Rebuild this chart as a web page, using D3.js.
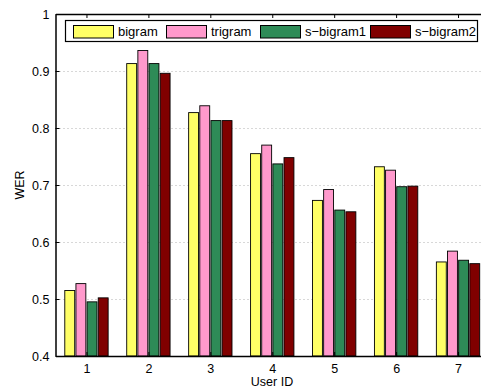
<!DOCTYPE html>
<html>
<head>
<meta charset="utf-8">
<script src="https://cdn.jsdelivr.net/npm/d3@7"></script>
<style>
    body{margin:0;background:#fff;}
    .canvas text{font-family:"Liberation Sans",Arial,Helvetica,sans-serif;}
</style>
</head>
<body>
<div class="canvas"></div>
<script>
//chart data
var userIds = [1,2,3,4,5,6,7];
var seriesNames = ['bigram','trigram','s\u2212bigram1','s\u2212bigram2'];
var bigram   = [0.515,0.913,0.827,0.755,0.673,0.732,0.565];
var trigram  = [0.527,0.936,0.839,0.770,0.692,0.726,0.584];
var sBigram1 = [0.495,0.913,0.813,0.737,0.656,0.697,0.568];
var sBigram2 = [0.502,0.896,0.813,0.748,0.653,0.698,0.562];
var yTicks = [0.4,0.5,0.6,0.7,0.8,0.9,1];
var seriesColors = ['#ffff66','#ff99cc','#2e8b57','#800000'];

var seriesValues = [bigram,trigram,sBigram1,sBigram2];

var pageWidth = 481,
    pageHeight = 390;
//the plot box runs a little past the right edge of the picture, like the original
var plot = {l:55.5, r:489, t:14, b:356};

var svg = d3.select('.canvas')
    .append('svg')
    .attr('width',pageWidth)
    .attr('height',pageHeight);

var x = d3.scaleLinear().domain([0.5,7.5]).range([plot.l,plot.r]);
var y = d3.scaleLinear().domain([0.4,1]).range([plot.b,plot.t]);

//grouped bar geometry (in x units)
var slot = 0.18,
    barW = 0.16;

//dotted grid lines
svg.append('g')
    .selectAll('line')
    .data(yTicks.filter(function(d){ return d>0.4 && d<1; }))
    .enter()
    .append('line')
    .attr('x1',plot.l)
    .attr('x2',plot.r)
    .attr('y1',function(d){ return Math.round(y(d))+0.5; })
    .attr('y2',function(d){ return Math.round(y(d))+0.5; })
    .style('stroke','#b0b0b0')
    .style('stroke-width',1)
    .style('stroke-dasharray','1,3');

//bars
seriesValues.forEach(function(vals,s){
    svg.append('g')
        .selectAll('rect')
        .data(vals)
        .enter()
        .append('rect')
        .attr('x',function(d,i){ return x(userIds[i] + (s-2)*slot + (slot-barW)/2); })
        .attr('width',x(barW)-x(0))
        .attr('y',function(d){ return y(d); })
        .attr('height',function(d){ return y(0.4)-y(d); })
        .style('fill',seriesColors[s])
        .style('stroke','#000')
        .style('stroke-width',0.9);
});

//axes: left and bottom with labels, top and right as plain box with ticks
var yAxis = d3.axisLeft(y).tickValues(yTicks).tickSizeInner(-4).tickSizeOuter(0).tickPadding(6)
    .tickFormat(function(d){ return d===1 ? '1' : d3.format('.1f')(d); });
var xAxis = d3.axisBottom(x).tickValues(userIds).tickSizeInner(-4).tickSizeOuter(0).tickPadding(8)
    .tickFormat(d3.format('d'));
var xTop = d3.axisTop(x).tickValues(userIds).tickSizeInner(-4).tickSizeOuter(0).tickFormat('');
var yRight = d3.axisRight(y).tickValues(yTicks).tickSizeInner(-4).tickSizeOuter(0).tickFormat('');

function styleAxis(g){
    g.select('.domain').style('stroke','#000').style('stroke-width',1.5);
    g.selectAll('.tick line').style('stroke','#000');
    g.selectAll('text').style('font-size','12.5px').style('fill','#000')
        .style('font-family','"Liberation Sans",Arial,sans-serif');
}

svg.append('g').attr('transform','translate('+plot.l+',0)').call(yAxis).call(styleAxis);
svg.append('g').attr('transform','translate(0,'+plot.b+')').call(xAxis).call(styleAxis);
svg.append('g').attr('transform','translate(0,'+plot.t+')').call(xTop).call(styleAxis);
svg.append('g').attr('transform','translate('+plot.r+',0)').call(yRight).call(styleAxis);

//axis titles
svg.append('text')
    .attr('x',272)
    .attr('y',386)
    .attr('text-anchor','middle')
    .style('font-size','12.5px')
    .text('User ID');

svg.append('text')
    .attr('transform','translate(24,'+((plot.t+plot.b)/2)+') rotate(-90)')
    .attr('text-anchor','middle')
    .style('font-size','12.5px')
    .text('WER');

//legend
var legend = svg.append('g');
legend.append('rect')
    .attr('x',65.5)
    .attr('y',20.5)
    .attr('width',412)
    .attr('height',21)
    .style('fill','#fff')
    .style('stroke','#000')
    .style('stroke-width',1.2);

var legendX = [73.5,166.5,260.5,370.5];
seriesNames.forEach(function(name,s){
    legend.append('rect')
        .attr('x',legendX[s])
        .attr('y',25.5)
        .attr('width',40)
        .attr('height',12.5)
        .style('fill',seriesColors[s])
        .style('stroke','#000')
        .style('stroke-width',1);
    legend.append('text')
        .attr('x',legendX[s]+44.5)
        .attr('y',36)
        .style('font-size','13px')
        .text(name);
});
</script>
</body>
</html>
